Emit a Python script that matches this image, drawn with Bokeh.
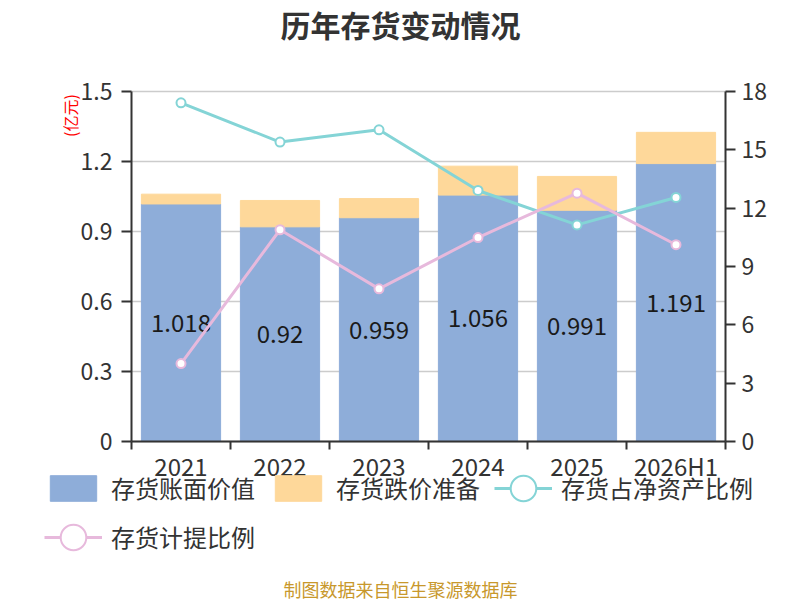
from math import pi

from bokeh.plotting import figure
from bokeh.models import (ColumnDataSource, Range1d, LinearAxis, FixedTicker,
                          CustomJSTickFormatter, Legend, LegendItem, Label)
from bokeh.core.properties import value
from bokeh.embed import file_html
from bokeh.resources import INLINE

# data
categories = ["2021", "2022", "2023", "2024", "2025", "2026H1"]
book_value = [1.018, 0.92, 0.959, 1.056, 0.991, 1.191]      # 存货账面价值 (亿元)
impairment = [0.042, 0.113, 0.082, 0.124, 0.145, 0.134]     # 存货跌价准备 (亿元)
share_of_net_assets = [17.42, 15.40, 16.03, 12.91, 11.14, 12.55]  # %
provision_ratio = [4.01, 10.89, 7.85, 10.49, 12.77, 10.12]        # %
left_ticks = [0, 0.3, 0.6, 0.9, 1.2, 1.5]
right_ticks = [0, 3, 6, 9, 12, 15, 18]

FONT = "Noto Sans CJK SC"
BLUE = "#8eadd9"
ORANGE = "#fed89a"
CYAN = "#84d4d6"
PINK = "#e7b9dc"
AXIS = "#333333"

W, H = 800, 600
# plot area inside the canvas (pixels from the left / top)
AREA_L, AREA_R, AREA_T, AREA_B = 131, 725, 91, 441

n = len(categories)
ymax_l, ymax_r = left_ticks[-1], right_ticks[-1]

# the frame covers the whole canvas; ranges are stretched so that the data
# area falls on the wanted pixels and the axes are pinned with fixed_location
sx = (AREA_R - AREA_L) / n
sy_l = (AREA_B - AREA_T) / ymax_l
sy_r = (AREA_B - AREA_T) / ymax_r
x_range = Range1d(-AREA_L / sx, n + (W - AREA_R) / sx)
y_range = Range1d(-(H - AREA_B) / sy_l, ymax_l + AREA_T / sy_l)
y_right = Range1d(-(H - AREA_B) / sy_r, ymax_r + AREA_T / sy_r)

xs = [i + 0.5 for i in range(n)]
src = ColumnDataSource(dict(
    x=xs,
    book=book_value,
    top=[b + r for b, r in zip(book_value, impairment)],
    mid=[b / 2 for b in book_value],
    lbl=[f"{b:g}" for b in book_value],
    share=share_of_net_assets,
    prov=provision_ratio,
))

p = figure(width=W, height=H, x_range=x_range, y_range=y_range, min_border=0,
           toolbar_location=None, output_backend="svg", outline_line_color=None)
p.extra_y_ranges = {"right": y_right}
p.grid.visible = False

# grid lines at the left ticks, across the data area only
p.segment(x0=0, x1=n, y0=left_ticks, y1=left_ticks, line_color="#cccccc", line_width=1.5)

# bars
r_book = p.vbar(x="x", top="book", width=0.8, color=BLUE, source=src)
r_imp = p.vbar(x="x", bottom="book", top="top", width=0.8, color=ORANGE, source=src)
p.text(x="x", y="mid", text="lbl", text_align="center", text_baseline="middle",
       text_font=value(FONT), text_font_size="24px", text_color="#1a1a1a", source=src)

# lines (the 1px ellipses sit under the markers and only give the legend symbol)
l_share = p.line(x="x", y="share", y_range_name="right", line_width=3, color=CYAN, source=src)
e_share = p.ellipse(x="x", y="share", width=1, height=1, width_units="screen",
                    height_units="screen", y_range_name="right", fill_color="white",
                    line_color=CYAN, line_width=2, source=src)
p.scatter(x="x", y="share", y_range_name="right", size=9, fill_color="white",
          line_color=CYAN, line_width=2, source=src)
l_prov = p.line(x="x", y="prov", y_range_name="right", line_width=3, color=PINK, source=src)
e_prov = p.ellipse(x="x", y="prov", width=1, height=1, width_units="screen",
                   height_units="screen", y_range_name="right", fill_color="white",
                   line_color=PINK, line_width=2, source=src)
p.scatter(x="x", y="prov", y_range_name="right", size=9, fill_color="white",
          line_color=PINK, line_width=2, source=src)

# axes pinned to the data area
xa = p.xaxis[0]
xa.fixed_location = 0
xa.bounds = (0, n)
xa.ticker = FixedTicker(ticks=xs, minor_ticks=list(range(n + 1)))
xa.formatter = CustomJSTickFormatter(args=dict(cats=categories),
                                     code="return cats[Math.floor(tick)]")
xa.major_tick_out = 0
xa.major_tick_in = 0
xa.minor_tick_out = 8
xa.minor_tick_in = 0
xa.minor_tick_line_color = AXIS
xa.minor_tick_line_width = 2
xa.major_label_standoff = -2
xa.major_label_text_font_size = "24px"

ya = p.yaxis[0]
ya.fixed_location = 0
ya.bounds = (0, ymax_l)
ya.ticker = FixedTicker(ticks=left_ticks)
ya.formatter = CustomJSTickFormatter(code="return Number(tick.toFixed(1)).toString()")

yr = LinearAxis(y_range_name="right", fixed_location=n, bounds=(0, ymax_r),
                ticker=FixedTicker(ticks=right_ticks))
p.add_layout(yr, "right")

for ax in (xa, ya, yr):
    ax.axis_line_color = AXIS
    ax.axis_line_width = 2
    ax.major_label_text_font = FONT
    ax.major_label_text_color = AXIS
for ax in (ya, yr):
    ax.major_label_text_font_size = "23px"
    ax.major_tick_out = 10
    ax.major_tick_in = 0
    ax.major_tick_line_color = AXIS
    ax.major_tick_line_width = 2
    ax.minor_tick_line_color = None
ya.major_label_standoff = 9
yr.major_label_standoff = 6

# legend
legend = Legend(
    items=[LegendItem(label="存货账面价值", renderers=[r_book]),
           LegendItem(label="存货跌价准备", renderers=[r_imp]),
           LegendItem(label="存货占净资产比例", renderers=[l_share, e_share]),
           LegendItem(label="存货计提比例", renderers=[l_prov, e_prov])],
    location=(44, 46), orientation="horizontal", ncols=3,
    glyph_width=58, glyph_height=32, label_height=32, label_standoff=9,
    padding=0, spacing=14, margin=0, border_line_color=None,
    background_fill_alpha=0, label_text_font=FONT, label_text_font_size="24px",
    label_text_color=AXIS)
p.add_layout(legend, "center")

# texts (screen units, measured from the bottom-left of the canvas)
def add_label(text, x, y, size, color, **kw):
    p.add_layout(Label(x=x, y=y, x_units="screen", y_units="screen", text=text,
                       text_align="center", text_baseline="middle", text_font=FONT,
                       text_font_size=size, text_color=color, **kw))

add_label("历年存货变动情况", 400, H - 23, "30px", AXIS, text_font_style="bold")
add_label("制图数据来自恒生聚源数据库", 400, H - 588, "18px", "#c8982c")
add_label("(亿元)", 69, H - 115, "16px", "#ff0000", angle=pi / 2)
add_label("(%)", 806, H - 92, "16px", "#ff0000", angle=pi / 2)

open("out.html", "w").write(file_html(p, INLINE))
